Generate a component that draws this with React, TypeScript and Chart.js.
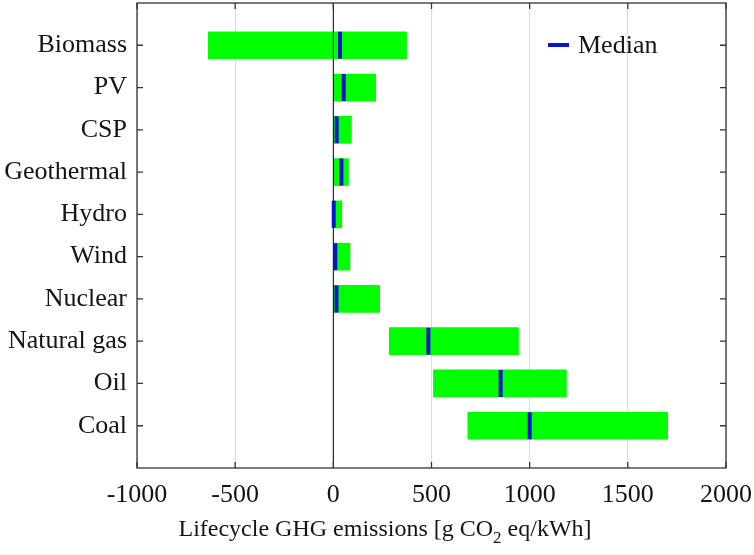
import { useEffect, useRef } from 'react'
import { Chart, registerables } from 'chart.js'

Chart.register(...registerables)

const categories = ['Biomass', 'PV', 'CSP', 'Geothermal', 'Hydro', 'Wind', 'Nuclear', 'Natural gas', 'Oil', 'Coal']
const minValues = [-637, 0, 0, 0, 0, 0, 0, 285, 510, 685]
const maxValues = [373, 216, 92, 77, 43, 85, 236, 943, 1187, 1703]
const medianValues = [34, 53, 17, 41, 2, 10, 16, 484, 852, 1000]
const xTicks = [-1000, -500, 0, 500, 1000, 1500, 2000]

const FONT = "'Liberation Serif', 'DejaVu Serif', serif"
const TEXT = '#141414'
const GREEN = '#00ff00'
const BLUE = '#0a14cc'

// frame, inward ticks, zero line, legend and axis title
const decorPlugin = {
  id: 'decor',
  afterDatasetDraw(chart: any, args: any) {
    if (args.index !== 0) return
    const { ctx, chartArea, scales } = chart
    const x0 = scales.x.getPixelForValue(0)
    ctx.save()
    ctx.strokeStyle = '#000'
    ctx.lineWidth = 1
    ctx.beginPath()
    ctx.moveTo(x0, chartArea.top)
    ctx.lineTo(x0, chartArea.bottom)
    ctx.stroke()
    ctx.restore()
  },
  afterDraw(chart: any) {
    const { ctx, chartArea, scales } = chart
    const { left, right, top, bottom } = chartArea
    ctx.save()
    ctx.strokeStyle = '#333'
    ctx.lineWidth = 1.3
    ctx.strokeRect(left, top, right - left, bottom - top)

    const len = 6
    ctx.beginPath()
    xTicks.forEach((v) => {
      const px = scales.x.getPixelForValue(v)
      ctx.moveTo(px, bottom)
      ctx.lineTo(px, bottom - len)
      ctx.moveTo(px, top)
      ctx.lineTo(px, top + len)
    })
    categories.forEach((c) => {
      const py = scales.y.getPixelForValue(scales.y.getLabels().indexOf(c))
      ctx.moveTo(left, py)
      ctx.lineTo(left + len, py)
      ctx.moveTo(right, py)
      ctx.lineTo(right - len, py)
    })
    ctx.stroke()

    // legend
    const ly = top + 42
    const lx = right - 178
    ctx.strokeStyle = BLUE
    ctx.lineWidth = 4
    ctx.beginPath()
    ctx.moveTo(lx, ly)
    ctx.lineTo(lx + 21, ly)
    ctx.stroke()
    ctx.fillStyle = TEXT
    ctx.font = `26px ${FONT}`
    ctx.textBaseline = 'middle'
    ctx.textAlign = 'left'
    ctx.fillText('Median', lx + 30, ly + 1)

    // x axis title with subscript
    const partA = 'Lifecycle GHG emissions [g CO'
    const sub = '2'
    const partB = ' eq/kWh]'
    ctx.font = `24px ${FONT}`
    const wA = ctx.measureText(partA).width
    const wB = ctx.measureText(partB).width
    ctx.font = `17px ${FONT}`
    const wS = ctx.measureText(sub).width
    const total = wA + wS + wB
    const cx = chart.width / 2 + 8
    const by = bottom + 68
    let x = cx - total / 2
    ctx.textBaseline = 'alphabetic'
    ctx.font = `24px ${FONT}`
    ctx.fillText(partA, x, by)
    x += wA
    ctx.font = `17px ${FONT}`
    ctx.fillText(sub, x, by + 7)
    x += wS
    ctx.font = `24px ${FONT}`
    ctx.fillText(partB, x, by)
    ctx.restore()
  },
}

export default function App() {
  const canvasRef = useRef<HTMLCanvasElement>(null)
  const chartRef = useRef<Chart | null>(null)

  useEffect(() => {
    document.body.style.margin = '0'
    if (!canvasRef.current) return
    if (chartRef.current) chartRef.current.destroy()

    const labels = ['', ...categories, '']
    const ranges = [null, ...categories.map((_, i) => [minValues[i], maxValues[i]]), null]
    const medians = categories.map((c, i) => ({ x: medianValues[i], y: c }))

    chartRef.current = new Chart(canvasRef.current, {
      type: 'bar',
      data: {
        labels,
        datasets: [
          {
            type: 'bar',
            label: 'Range',
            data: ranges as any,
            backgroundColor: GREEN,
            borderWidth: 0,
            barThickness: 27,
            order: 2,
          },
          {
            type: 'scatter',
            label: 'Median',
            data: medians as any,
            pointStyle: 'line',
            rotation: 90,
            radius: 13.5,
            borderColor: BLUE,
            borderWidth: 4,
            order: 1,
          } as any,
        ],
      },
      options: {
        indexAxis: 'y',
        animation: false,
        responsive: false,
        layout: { autoPadding: false, padding: { top: 3, right: 28, left: 0, bottom: 0 } },
        plugins: {
          legend: { display: false },
          tooltip: { enabled: false },
        },
        scales: {
          x: {
            type: 'linear',
            min: -1000,
            max: 2000,
            afterBuildTicks: (scale: any) => {
              scale.ticks = xTicks.map((v) => ({ value: v }))
            },
            afterFit: (scale: any) => {
              scale.height = 87
              scale.paddingLeft = 0
              scale.paddingRight = 0
            },
            border: { display: false },
            grid: {
              drawTicks: false,
              color: (ctx: any) => (ctx.tick && ctx.tick.value === 0 ? 'rgba(0,0,0,0)' : '#dcdcdc'),
              lineWidth: 1,
            },
            ticks: {
              padding: 12,
              color: TEXT,
              font: { family: FONT, size: 26 },
              maxRotation: 0,
              callback: (v: any) => String(v),
            },
          },
          y: {
            type: 'category',
            offset: false,
            afterFit: (scale: any) => {
              scale.width = 137
              scale.paddingTop = 0
              scale.paddingBottom = 0
            },
            border: { display: false },
            grid: { display: false, drawTicks: false },
            ticks: {
              padding: 10,
              color: TEXT,
              font: { family: FONT, size: 26 },
              autoSkip: false,
            },
          },
        },
      },
      plugins: [decorPlugin],
    })

    return () => {
      if (chartRef.current) {
        chartRef.current.destroy()
        chartRef.current = null
      }
    }
  }, [])

  return (
    <div style={{ width: 754, height: 555 }}>
      <canvas ref={canvasRef} width={754} height={555} style={{ width: 754, height: 555 }}></canvas>
    </div>
  )
}
